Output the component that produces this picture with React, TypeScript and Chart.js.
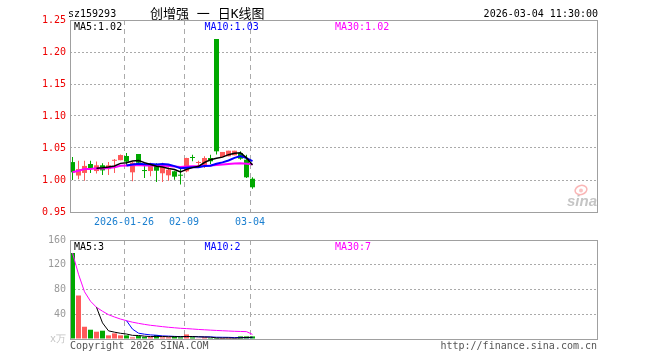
import React, { useEffect, useRef } from 'react';
import { Chart, registerables } from 'chart.js';

Chart.register(...registerables);

// ---------------- data ----------------
const stockCode = 'sz159293';
const chartTitle = '创增强 一 日K线图';
const timestamp = '2026-03-04 11:30:00';

const dates = [
  '2026-01-13', '2026-01-14', '2026-01-15', '2026-01-16', '2026-01-19', '2026-01-20',
  '2026-01-21', '2026-01-22', '2026-01-23', '2026-01-26', '2026-01-27', '2026-01-28',
  '2026-01-29', '2026-01-30', '2026-02-02', '2026-02-03', '2026-02-04', '2026-02-05',
  '2026-02-06', '2026-02-09', '2026-02-10', '2026-02-11', '2026-02-12', '2026-02-13',
  '2026-02-24', '2026-02-25', '2026-02-26', '2026-02-27', '2026-03-02', '2026-03-03',
  '2026-03-04',
];
const opens = [
  1.028, 1.007, 1.011, 1.025, 1.014, 1.023, 1.017, 1.030, 1.031, 1.0375, 1.012,
  1.0406, 1.0145, 1.014, 1.0234, 1.0105, 1.0073, 1.0136, 1.007, 1.0136, 1.0348,
  1.0266, 1.0214, 1.0344, 1.2203, 1.0359, 1.037, 1.0386, 1.0422, 1.0317, 1.002,
];
const highs = [
  1.036, 1.030, 1.030, 1.030, 1.029, 1.026, 1.028, 1.033, 1.040, 1.042, 1.028,
  1.0406, 1.026, 1.027, 1.026, 1.027, 1.020, 1.0145, 1.020, 1.0348, 1.0395,
  1.030, 1.037, 1.0395, 1.2203, 1.0438, 1.0458, 1.0458, 1.0448, 1.0395, 1.0042,
];
const lows = [
  1.000, 1.001, 0.999, 1.011, 1.010, 1.008, 1.008, 1.011, 1.031, 1.022, 0.998,
  1.025, 1.003, 1.006, 0.997, 0.997, 0.999, 1.0005, 0.993, 1.012, 1.0292,
  1.0214, 1.0188, 1.025, 1.040, 1.0359, 1.037, 1.0386, 1.0316, 1.0031, 0.9864,
];
const closes = [
  1.012, 1.017, 1.022, 1.018, 1.023, 1.015, 1.023, 1.030, 1.039, 1.0286, 1.027,
  1.027, 1.014, 1.025, 1.0145, 1.0208, 1.0161, 1.0052, 1.0067, 1.0344, 1.0344,
  1.0266, 1.0344, 1.0292, 1.0448, 1.0438, 1.0458, 1.0458, 1.0333, 1.0042, 0.9886,
];
// volume in 万
const volumes = [
  139, 70.3, 19.8, 15, 11.8, 13.4, 5.9, 9.1, 5.9, 5.9, 2.7, 4.8, 3.5, 3.0, 6.5, 2.7,
  2.7, 4.2, 2.7, 7.4, 2.7, 0.5, 2.7, 1.6, 1.6, 1.6, 1.6, 0.5, 4.2, 4.2, 4.2,
];
const dateTickIndex = [9, 19, 30];
const priceTicks = [0.95, 1.0, 1.05, 1.1, 1.15, 1.2, 1.25];
const volumeTicks = [0, 40, 80, 120, 160];
const volumeUnit = 'x万';
const maPeriods = [5, 10, 30];
const copyright = 'Copyright 2026 SINA.COM';
const siteUrl = 'http://finance.sina.com.cn';

// ---------------- styles ----------------
const MONO = "'DejaVu Sans Mono', 'Liberation Mono', monospace";
const RED = '#ff5a5a';
const GREEN = '#00a800';
const MA_COLORS = ['#000000', '#0000ff', '#ff00ff'];
const GRID = '#aaaaaa';
const FRAME = '#a0a0a0';
const X_MIN = -5 / 12;
const X_SLOTS = 88;

function movingAverage(values: number[], n: number, partial: boolean) {
  return values.map((_, i) => {
    if (i < n - 1 && !partial) return null;
    const s = Math.max(0, i - n + 1);
    let sum = 0;
    for (let j = s; j <= i; j++) sum += values[j];
    return sum / (i - s + 1);
  });
}

const candleColors = closes.map((c, i) => (c >= opens[i] ? RED : GREEN));
const tickLabels = dateTickIndex.map((idx, k) => (k === 0 ? dates[idx] : dates[idx].slice(5)));

function xScale(showLabels: boolean, height: number) {
  return {
    type: 'linear',
    min: X_MIN,
    max: X_MIN + X_SLOTS,
    offset: false,
    afterBuildTicks: (s: any) => {
      s.ticks = dateTickIndex.map((i) => ({ value: i + X_MIN }));
    },
    afterFit: (s: any) => {
      s.height = height;
    },
    grid: { color: GRID, lineWidth: 1, drawTicks: false, offset: false },
    border: { display: false, dash: [5, 4] },
    ticks: {
      display: showLabels,
      autoSkip: false,
      maxRotation: 0,
      padding: 4,
      color: '#1a7fd0',
      font: { family: MONO, size: 10 },
      callback: (_v: any, i: number) => tickLabels[i],
    },
  };
}

const framePlugin = {
  id: 'frame',
  afterDraw(chart: any) {
    const { ctx, chartArea: a } = chart;
    ctx.save();
    ctx.strokeStyle = FRAME;
    ctx.lineWidth = 1;
    ctx.strokeRect(a.left + 0.5, a.top + 0.5, a.right - a.left - 1, a.bottom - a.top);
    ctx.restore();
  },
};

function legend(ctx: any, a: any, texts: string[]) {
  ctx.save();
  ctx.font = `10px ${MONO}`;
  ctx.textAlign = 'left';
  ctx.textBaseline = 'alphabetic';
  texts.forEach((t, i) => {
    ctx.fillStyle = MA_COLORS[i];
    ctx.fillText(t, a.left + 4 + i * 130.5, a.top + 10);
  });
  ctx.restore();
}

function lineDataset(values: (number | null)[], color: string, width: number) {
  return {
    type: 'line',
    data: values.map((v, i) => ({ x: i, y: v })),
    borderColor: color,
    borderWidth: width,
    pointRadius: 0,
    tension: 0,
    fill: false,
    order: 0,
  };
}

function priceConfig() {
  const mas = maPeriods.map((p, k) => movingAverage(closes, p, k === 2));
  const legendTexts = maPeriods.map((p, k) => `MA${p}:${(mas[k][mas[k].length - 1] as number).toFixed(2)}`);
  const textPlugin = {
    id: 'priceText',
    beforeDatasetsDraw(chart: any) {
      const { ctx, chartArea: a } = chart;
      ctx.save();
      ctx.fillStyle = 'rgba(245,120,120,0.45)';
      ctx.strokeStyle = 'rgba(245,110,110,0.5)';
      ctx.lineWidth = 1.5;
      ctx.beginPath();
      ctx.ellipse(a.right - 17, a.bottom - 22, 6, 4.5, -0.3, 0, Math.PI * 2);
      ctx.stroke();
      ctx.beginPath();
      ctx.arc(a.right - 17, a.bottom - 21.5, 2, 0, Math.PI * 2);
      ctx.fill();
      ctx.font = "italic bold 15px 'Liberation Sans', sans-serif";
      ctx.fillStyle = 'rgba(150,150,150,0.55)';
      ctx.textAlign = 'right';
      ctx.fillText('sina', a.right - 1, a.bottom - 6);
      ctx.restore();
    },
    afterDraw(chart: any) {
      const { ctx, chartArea: a } = chart;
      ctx.save();
      ctx.fillStyle = '#000';
      ctx.textBaseline = 'alphabetic';
      ctx.textAlign = 'left';
      ctx.font = `10px ${MONO}`;
      ctx.fillText(stockCode, 68, 17);
      ctx.font = `13px ${MONO}, 'Noto Sans CJK SC'`;
      ctx.fillText(chartTitle, 150, 18);
      ctx.font = `10px ${MONO}`;
      ctx.textAlign = 'right';
      ctx.fillText(timestamp, a.right, 17);
      ctx.restore();
      legend(ctx, a, legendTexts);
    },
  };
  return {
    type: 'bar',
    data: {
      datasets: [
        lineDataset(mas[0], MA_COLORS[0], 1.5),
        lineDataset(mas[1], MA_COLORS[1], 2),
        lineDataset(mas[2], MA_COLORS[2], 2),
        {
          type: 'bar',
          data: dates.map((_, i) => ({ x: i, y: [opens[i], closes[i]] })),
          backgroundColor: candleColors,
          barThickness: 5,
          minBarLength: 1,
          grouped: false,
          inflateAmount: 0,
          borderWidth: 0,
          order: 2,
        },
        {
          type: 'bar',
          data: dates.map((_, i) => ({ x: i, y: [lows[i], highs[i]] })),
          backgroundColor: candleColors,
          barThickness: 1,
          grouped: false,
          inflateAmount: 0,
          borderWidth: 0,
          order: 3,
        },
      ],
    },
    options: {
      responsive: false,
      animation: false,
      devicePixelRatio: 1,
      events: [],
      layout: { padding: { left: 0, right: 62, top: 20, bottom: 0 } },
      plugins: { legend: { display: false }, tooltip: { enabled: false } },
      scales: {
        x: xScale(true, 148),
        y: {
          type: 'linear',
          min: priceTicks[0],
          max: priceTicks[priceTicks.length - 1],
          afterBuildTicks: (s: any) => {
            s.ticks = priceTicks.map((v) => ({ value: v }));
          },
          afterFit: (s: any) => {
            s.width = 70;
          },
          grid: { color: GRID, lineWidth: 1, drawTicks: false },
          border: { display: false, dash: [2, 2] },
          ticks: {
            padding: 4,
            color: '#ee0000',
            font: { family: MONO, size: 10 },
            callback: (v: any) => Number(v).toFixed(2),
          },
        },
      },
    },
    plugins: [framePlugin, textPlugin],
  };
}

function volumeConfig() {
  const mas = maPeriods.map((p, k) => movingAverage(volumes, p, k === 2));
  const legendTexts = maPeriods.map((p, k) => `MA${p}:${(mas[k][mas[k].length - 1] as number).toFixed(0)}`);
  const textPlugin = {
    id: 'volText',
    afterDraw(chart: any) {
      const { ctx, chartArea: a } = chart;
      legend(ctx, a, legendTexts);
      ctx.save();
      ctx.font = `10px ${MONO}`;
      ctx.fillStyle = '#555';
      ctx.textBaseline = 'alphabetic';
      ctx.textAlign = 'left';
      ctx.fillText(copyright, a.left, a.bottom + 10);
      ctx.textAlign = 'right';
      ctx.fillText(siteUrl, a.right - 1, a.bottom + 10);
      ctx.restore();
    },
  };
  return {
    type: 'bar',
    data: {
      datasets: [
        lineDataset(mas[0], MA_COLORS[0], 1),
        lineDataset(mas[1], MA_COLORS[1], 1),
        lineDataset(mas[2], MA_COLORS[2], 1),
        {
          type: 'bar',
          data: volumes.map((v, i) => ({ x: i, y: v })),
          backgroundColor: candleColors,
          barThickness: 5,
          grouped: false,
          inflateAmount: 0,
          borderWidth: 0,
          order: 2,
        },
      ],
    },
    options: {
      responsive: false,
      animation: false,
      devicePixelRatio: 1,
      events: [],
      layout: { padding: { left: 0, right: 62, top: 240, bottom: 0 } },
      plugins: { legend: { display: false }, tooltip: { enabled: false } },
      scales: {
        x: xScale(false, 21),
        y: {
          type: 'linear',
          min: volumeTicks[0],
          max: volumeTicks[volumeTicks.length - 1],
          afterBuildTicks: (s: any) => {
            s.ticks = volumeTicks.map((v) => ({ value: v }));
          },
          afterFit: (s: any) => {
            s.width = 70;
          },
          grid: { color: GRID, lineWidth: 1, drawTicks: false },
          border: { display: false, dash: [2, 2] },
          ticks: {
            padding: 4,
            color: (c: any) => (c.tick && c.tick.value === 0 ? '#c4c4c4' : '#999999'),
            font: { family: MONO, size: 10 },
            callback: (v: any) => (Number(v) === 0 ? volumeUnit : String(v)),
          },
        },
      },
    },
    plugins: [framePlugin, textPlugin],
  };
}

export default function App() {
  const topRef = useRef<HTMLCanvasElement>(null);
  const botRef = useRef<HTMLCanvasElement>(null);
  useEffect(() => {
    const c1 = new Chart(topRef.current as HTMLCanvasElement, priceConfig() as any);
    const c2 = new Chart(botRef.current as HTMLCanvasElement, volumeConfig() as any);
    return () => {
      c1.destroy();
      c2.destroy();
    };
  }, []);
  return (
    <div style={{ position: 'absolute', left: 0, top: 0, width: 660, height: 360, background: '#fff' }}>
      <canvas ref={topRef} width={660} height={360} style={{ position: 'absolute', left: 0, top: 0 }} />
      <canvas ref={botRef} width={660} height={360} style={{ position: 'absolute', left: 0, top: 0 }} />
    </div>
  );
}
